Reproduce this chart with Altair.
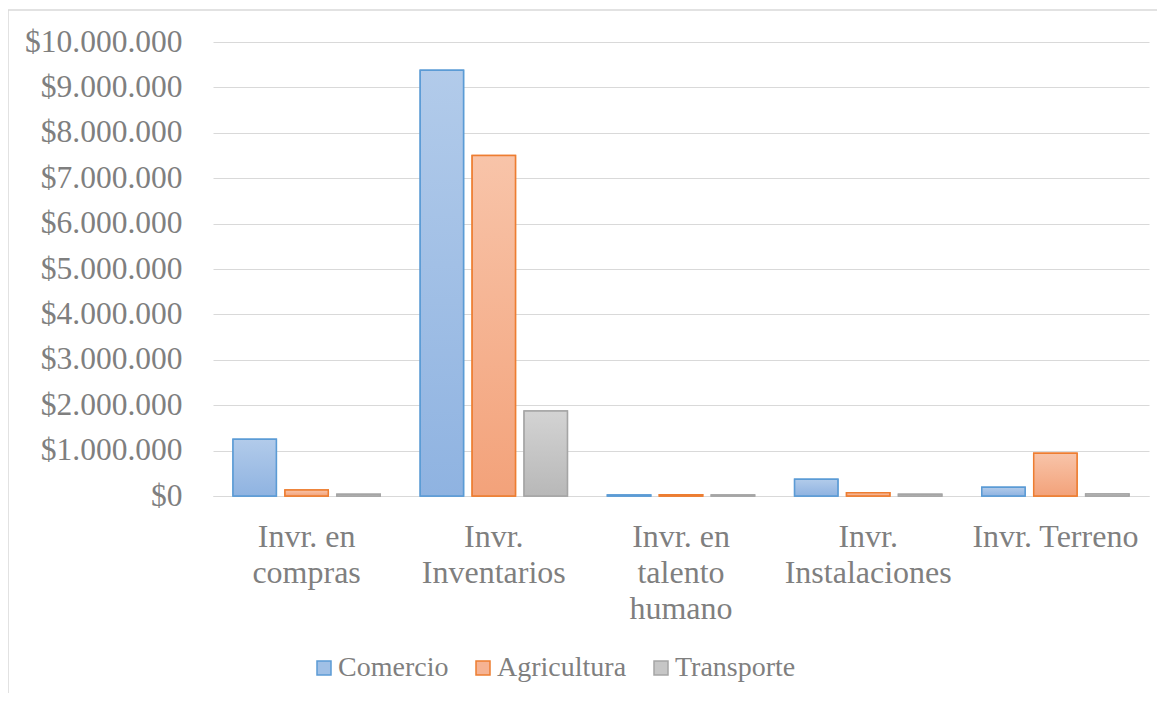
import altair as alt
import pandas as pd

categories = ["Invr. en compras", "Invr. Inventarios", "Invr. en talento humano",
              "Invr. Instalaciones", "Invr. Terreno"]
label_lines = {
    "Invr. en compras": ["Invr. en", "compras"],
    "Invr. Inventarios": ["Invr.", "Inventarios"],
    "Invr. en talento humano": ["Invr. en", "talento", "humano"],
    "Invr. Instalaciones": ["Invr.", "Instalaciones"],
    "Invr. Terreno": ["Invr. Terreno"],
}
series = ["Comercio", "Agricultura", "Transporte"]
comercio = [1250000, 9380000, 20000, 370000, 190000]
agricultura = [130000, 7500000, 30000, 70000, 940000]
transporte = [40000, 1870000, 20000, 40000, 45000]

stroke_colors = ["#5b9bd5", "#ed7d31", "#a5a5a5"]
mid_colors = ["#a0c0e6", "#f6b393", "#c6c6c6"]
grad_top = ["#b2cbea", "#f8c4a9", "#d3d3d3"]
grad_bot = ["#8fb3e1", "#f3a27a", "#b8b8b8"]

rows = []
for s, vals in zip(series, [comercio, agricultura, transporte]):
    for c, v in zip(categories, vals):
        rows.append({"cat": c, "serie": s, "valor": v})
df = pd.DataFrame(rows)

FONT = "Liberation Serif"
TXT = "#7f7f7f"

label_expr = ""
for c in categories:
    arr = "[" + ",".join("'" + l + "'" for l in label_lines[c]) + "]"
    label_expr += "datum.label == '" + c + "' ? " + arr + " : "
label_expr += "datum.label"

x_enc = alt.X("cat:N", sort=categories,
              scale=alt.Scale(domain=categories, paddingInner=0.2137, paddingOuter=0.107),
              axis=alt.Axis(title=None, labelAngle=0, labelExpr=label_expr, ticks=False,
                            domainColor="#d9d9d9", domainWidth=1, grid=False,
                            labelFont=FONT, labelFontSize=32, labelColor=TXT,
                            labelLineHeight=36, labelBaseline="top", labelPadding=25,
                            labelLimit=300))
y_enc = alt.Y("valor:Q",
              scale=alt.Scale(domain=[0, 10000000], nice=False),
              axis=alt.Axis(title=None, values=list(range(0, 10000001, 1000000)),
                            labelExpr="'$' + replace(replace(format(datum.value, ',d'), ',', '.'), ',', '.')",
                            domain=False, ticks=False, gridColor="#d9d9d9", gridWidth=1,
                            labelFont=FONT, labelFontSize=31.5, labelColor=TXT,
                            labelPadding=31))
xo_enc = alt.XOffset("serie:N", sort=series,
                     scale=alt.Scale(domain=series, paddingInner=0.166, paddingOuter=0))

legend = alt.Legend(title=None, orient="none", legendX=97, legendY=612,
                    direction="horizontal", symbolType="square", symbolSize=196,
                    symbolStrokeWidth=1.5, labelFont=FONT, labelFontSize=28,
                    labelColor=TXT, columnPadding=20, labelOffset=0)

base = alt.Chart(df).mark_bar(strokeWidth=1.5).encode(
    x=x_enc, y=y_enc, xOffset=xo_enc,
    fill=alt.Fill("serie:N", scale=alt.Scale(domain=series, range=mid_colors), legend=legend),
    stroke=alt.Stroke("serie:N", scale=alt.Scale(domain=series, range=stroke_colors), legend=legend),
)

layers = [base]
for i, s in enumerate(series):
    grad = alt.LinearGradient(
        gradient="linear",
        stops=[alt.GradientStop(color=grad_top[i], offset=0),
               alt.GradientStop(color=grad_bot[i], offset=1)],
        x1=0, x2=0, y1=0, y2=1)
    layers.append(
        alt.Chart(df).transform_filter(alt.datum.serie == s)
        .mark_bar(fill=grad, stroke=stroke_colors[i], strokeWidth=1.5)
        .encode(x=x_enc, y=y_enc, xOffset=xo_enc)
    )

border = alt.Chart(pd.DataFrame({"a": [0]})).mark_rect(
    fill=None, stroke="#d9d9d9", strokeWidth=1.5).encode(
    x=alt.value(-205), x2=alt.value(2000), y=alt.value(-32), y2=alt.value(2000))

chart = alt.layer(border, *layers).properties(
    width=936, height=454,
    padding={"left": 205, "top": 34, "right": 8, "bottom": 197},
    autosize=alt.AutoSizeParams(type="none"),
).configure_view(stroke=None)

chart.save("out.html", embed_options={"renderer": "svg", "actions": False})
